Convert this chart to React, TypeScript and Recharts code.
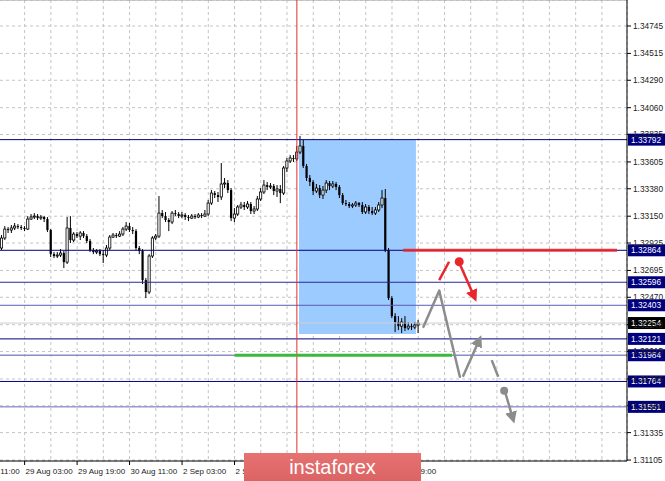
import React from "react";
import {
  ComposedChart,
  Bar,
  XAxis,
  YAxis,
  CartesianGrid,
  ReferenceLine,
  ReferenceArea,
  ReferenceDot
} from "recharts";

// H1 candles, 28 Aug 20:00 .. 5 Sep 03:00 (index 0..127)
const opens = [
  1.32883, 1.32967, 1.33042, 1.33034, 1.33051, 1.33067, 1.33059, 1.33051, 1.33042, 1.33126,
  1.33143, 1.33151, 1.33134, 1.33143, 1.33126, 1.33034, 1.32832, 1.32816, 1.32824, 1.32841,
  1.32765, 1.33051, 1.3295, 1.33, 1.32983, 1.33009, 1.32983, 1.32942, 1.32866, 1.32849,
  1.32858, 1.32832, 1.32824, 1.32883, 1.32975, 1.32992, 1.32983, 1.33, 1.33042, 1.33067,
  1.33034, 1.33025, 1.32883, 1.32858, 1.32614, 1.32514, 1.32816, 1.32967, 1.32983, 1.33176,
  1.33151, 1.33118, 1.33101, 1.33176, 1.33168, 1.33151, 1.3316, 1.33143, 1.33134, 1.33151,
  1.33143, 1.3316, 1.33151, 1.33168, 1.3326, 1.33344, 1.33327, 1.33311, 1.3342, 1.33428,
  1.33369, 1.33134, 1.33168, 1.33227, 1.33244, 1.33227, 1.33252, 1.33193, 1.3321, 1.33294,
  1.33353, 1.33411, 1.33395, 1.33403, 1.33361, 1.33378, 1.33344, 1.33554, 1.33613, 1.33638,
  1.3363, 1.33688, 1.33739, 1.33571, 1.3347, 1.33437, 1.33361, 1.33386, 1.33327, 1.33369,
  1.33428, 1.33403, 1.3342, 1.33395, 1.33327, 1.3326, 1.33252, 1.33235, 1.33244, 1.3326,
  1.33244, 1.33185, 1.33227, 1.33193, 1.33176, 1.33202, 1.33244, 1.33302, 1.32866, 1.32463,
  1.32312, 1.32262, 1.32228, 1.32262, 1.32212, 1.32228, 1.3222, 1.32237
];
const highs = [
  1.32992, 1.33067, 1.33059, 1.33076, 1.33093, 1.33084, 1.33076, 1.33067, 1.33151, 1.33168,
  1.33176, 1.33168, 1.3316, 1.33151, 1.33143, 1.33042, 1.32849, 1.32849, 1.32874, 1.32858,
  1.33143, 1.33151, 1.33017, 1.33017, 1.33025, 1.33025, 1.33, 1.32958, 1.32883, 1.32874,
  1.32874, 1.32866, 1.32908, 1.32992, 1.33009, 1.33009, 1.33025, 1.33059, 1.33101, 1.33093,
  1.33059, 1.33042, 1.329, 1.32874, 1.32631, 1.32832, 1.32983, 1.33, 1.33319, 1.33202,
  1.33185, 1.33134, 1.33193, 1.33202, 1.33185, 1.33185, 1.33176, 1.3316, 1.33168, 1.33168,
  1.33176, 1.33176, 1.33202, 1.33286, 1.33369, 1.33361, 1.33353, 1.33596, 1.3347, 1.33453,
  1.33386, 1.33218, 1.33244, 1.33269, 1.33269, 1.33277, 1.33269, 1.33235, 1.33319, 1.33386,
  1.33453, 1.33437, 1.33428, 1.3342, 1.33411, 1.33411, 1.33571, 1.33638, 1.33663, 1.33663,
  1.33739, 1.33823, 1.33789, 1.33588, 1.33495, 1.33453, 1.3342, 1.33411, 1.33403, 1.33453,
  1.33445, 1.33445, 1.33437, 1.33411, 1.33344, 1.33286, 1.33269, 1.3326, 1.33277, 1.33269,
  1.33269, 1.33252, 1.33244, 1.33227, 1.33227, 1.33269, 1.33369, 1.33378, 1.32883, 1.3248,
  1.32337, 1.32312, 1.32295, 1.32312, 1.32262, 1.32254, 1.32262, 1.32279
];
const lows = [
  1.32866, 1.3295, 1.33009, 1.33009, 1.33034, 1.33042, 1.33034, 1.33025, 1.33034, 1.33118,
  1.33126, 1.33118, 1.33118, 1.33101, 1.33017, 1.32807, 1.32799, 1.32799, 1.32807, 1.32715,
  1.32749, 1.32925, 1.32933, 1.32967, 1.3295, 1.32967, 1.32925, 1.32849, 1.32832, 1.32832,
  1.32816, 1.32757, 1.32807, 1.32866, 1.32967, 1.32967, 1.32975, 1.32983, 1.33025, 1.33017,
  1.33, 1.32866, 1.32832, 1.32581, 1.32463, 1.32497, 1.32799, 1.3295, 1.32967, 1.33134,
  1.33101, 1.33025, 1.33084, 1.33151, 1.33134, 1.33134, 1.33118, 1.33109, 1.33126, 1.33126,
  1.33134, 1.33134, 1.33143, 1.33151, 1.33244, 1.33302, 1.33269, 1.33286, 1.33386, 1.33344,
  1.33109, 1.33101, 1.33151, 1.3321, 1.33202, 1.3321, 1.33168, 1.33168, 1.33193, 1.33277,
  1.33336, 1.33369, 1.33378, 1.33327, 1.33311, 1.3326, 1.33327, 1.3352, 1.33596, 1.33604,
  1.33613, 1.33671, 1.33554, 1.33445, 1.33403, 1.33327, 1.33344, 1.33302, 1.33294, 1.33344,
  1.33369, 1.33386, 1.33369, 1.33302, 1.33244, 1.33235, 1.33218, 1.33218, 1.33227, 1.33227,
  1.33168, 1.33168, 1.33168, 1.3316, 1.3316, 1.33185, 1.33218, 1.32849, 1.32447, 1.32295,
  1.32178, 1.32195, 1.3217, 1.32187, 1.32195, 1.32195, 1.32203, 1.3217
];
const closes = [
  1.32967, 1.33042, 1.33034, 1.33051, 1.33067, 1.33059, 1.33051, 1.33042, 1.33126, 1.33143,
  1.33151, 1.33134, 1.33143, 1.33126, 1.33034, 1.32832, 1.32816, 1.32824, 1.32841, 1.32765,
  1.33051, 1.3295, 1.33, 1.32983, 1.33009, 1.32983, 1.32942, 1.32866, 1.32849, 1.32858,
  1.32832, 1.32824, 1.32883, 1.32975, 1.32992, 1.32983, 1.33, 1.33042, 1.33067, 1.33034,
  1.33025, 1.32883, 1.32858, 1.32614, 1.32514, 1.32816, 1.32967, 1.32983, 1.33176, 1.33151,
  1.33118, 1.33101, 1.33176, 1.33168, 1.33151, 1.3316, 1.33143, 1.33134, 1.33151, 1.33143,
  1.3316, 1.33151, 1.33168, 1.3326, 1.33344, 1.33327, 1.33311, 1.3342, 1.33428, 1.33369,
  1.33134, 1.33168, 1.33227, 1.33244, 1.33227, 1.33252, 1.33193, 1.3321, 1.33294, 1.33353,
  1.33411, 1.33395, 1.33403, 1.33361, 1.33378, 1.33344, 1.33554, 1.33613, 1.33638, 1.3363,
  1.33688, 1.33739, 1.33571, 1.3347, 1.33437, 1.33361, 1.33386, 1.33327, 1.33369, 1.33428,
  1.33403, 1.3342, 1.33395, 1.33327, 1.3326, 1.33252, 1.33235, 1.33244, 1.3326, 1.33244,
  1.33185, 1.33227, 1.33193, 1.33176, 1.33202, 1.33244, 1.33302, 1.32866, 1.32463, 1.32312,
  1.32262, 1.32228, 1.32262, 1.32212, 1.32228, 1.3222, 1.32237, 1.32254
];

// time axis: grid every 8 bars, labels every 16 bars
const gridIdx = [-9, -1, 7, 15, 23, 31, 39, 47, 55, 63, 71, 79, 87, 95, 103, 111, 119, 127, 135, 143, 151, 159, 167, 175, 183];
const labelIdx = [-9, 7, 23, 39, 55, 71, 87, 103, 119];
const timeLabels = ["28 Aug 11:00", "29 Aug 03:00", "29 Aug 19:00", "30 Aug 11:00", "2 Sep 03:00", "2 Sep 19:00", "3 Sep 11:00", "4 Sep 03:00", "4 Sep 19:00"];

const priceTicks = [1.34745, 1.34515, 1.3429, 1.3406, 1.33835, 1.33605, 1.3338, 1.3315, 1.32925, 1.32695, 1.3247, 1.3224, 1.32015, 1.31785, 1.3156, 1.31335, 1.31105];

// horizontal levels
const levels = [1.33792, 1.32864, 1.32596, 1.32403, 1.32121, 1.31984, 1.31764, 1.31551];
const levelStroke = ["#00007f", "#00007f", "#28289a", "#5a5ab8", "#00007f", "#8c8cc8", "#00007f", "#6a6abc"];
const lastPrice = 1.32254;

// annotations, [bar index, price]
const cursorIdx = 90;
const zoneX = [90.65, 126.3];
const zoneY = [1.32161, 1.33792];
const redLevel = [[122.4, 1.32864], [187.6, 1.32864]];
const greenLevel = [[71.1, 1.31984], [137.3, 1.31984]];
const grayUp = [[128.6, 1.32222], [133.4, 1.32525]];
const grayDown = [[133.4, 1.32525], [139.7, 1.31803]];
const grayBack = [[140.6, 1.31803], [145.8, 1.32125]];
const grayDash = [[149.4, 1.31943], [151.4, 1.31803]];
const grayDot = [153.2, 1.31686];
const grayFall = [[153.6, 1.31665], [156.0, 1.31440]];
const redDash = [[133.4, 1.32614], [136.4, 1.32768]];
const redDot = [139.5, 1.32768];
const redFall = [[139.9, 1.32735], [144.3, 1.32461]];

const data = opens.map((o, i) => ({
  i,
  o,
  h: highs[i],
  l: lows[i],
  c: closes[i],
  range: [lows[i], highs[i]]
}));

const FONT = "Liberation Sans";

const Candle = (props: any) => {
  const { x, y, width, height, payload } = props;
  const { o, h, l, c } = payload;
  const top = Math.min(y, y + height);
  const full = Math.abs(height);
  const cx = x + width / 2;
  const span = h - l || 1e-9;
  const py = (v: number) => top + ((h - v) / span) * full;
  const bTop = py(Math.max(o, c));
  const bBot = py(Math.min(o, c));
  const up = c >= o;
  return (
    <g>
      <line x1={cx} x2={cx} y1={top} y2={top + full} stroke="#000" strokeWidth={1} />
      <rect
        x={cx - 1.1}
        y={bTop}
        width={2.2}
        height={Math.max(bBot - bTop, 1)}
        fill={up ? "#ffffff" : "#000"}
        stroke="#000"
        strokeWidth={up ? 0.8 : 0}
      />
    </g>
  );
};

const TimeTick = (props: any) => {
  const { x, y, payload } = props;
  const k = labelIdx.indexOf(payload.value);
  if (k < 0) return null;
  return (
    <g>
      <line x1={x} x2={x} y1={y} y2={y + 4} stroke="#000" />
      <text x={x + 1} y={y + 13} fontSize={8} fill="#222" fontFamily={FONT}>
        {timeLabels[k]}
      </text>
    </g>
  );
};

const PriceTag = (props: any) => {
  const { viewBox, text, bg } = props;
  const x = viewBox.x + viewBox.width + 1;
  const y = viewBox.y;
  return (
    <g>
      <rect x={x} y={y - 6} width={37} height={12} fill={bg} />
      <text x={x + 3} y={y + 3} fontSize={8.3} fill="#fff" fontFamily={FONT}>
        {text}
      </text>
    </g>
  );
};

const seg = (p: number[][]) => [
  { x: p[0][0], y: p[0][1] },
  { x: p[1][0], y: p[1][1] }
];

const App = () => {
  return (
    <div style={{ position: "fixed", left: 0, top: 0, width: 665, height: 481, overflow: "hidden", background: "#fff" }}>
      <div style={{ position: "absolute", left: -30, top: 0 }}>
        <ComposedChart width={695} height={481} data={data} margin={{ top: 0, right: 0, left: 0, bottom: 0 }}>
          <defs>
            <marker id="headGray" viewBox="0 0 10 10" refX="7" refY="5" markerUnits="userSpaceOnUse" markerWidth="12" markerHeight="12" orient="auto">
              <path d="M0,0 L10,5 L0,10 z" fill="#8c8c8c" />
            </marker>
            <marker id="headRed" viewBox="0 0 10 10" refX="7" refY="5" markerUnits="userSpaceOnUse" markerWidth="12" markerHeight="12" orient="auto">
              <path d="M0,0 L10,5 L0,10 z" fill="#e8262c" />
            </marker>
          </defs>
          <CartesianGrid strokeDasharray="3 3" stroke="#c4c4c4" />
          <XAxis
            dataKey="i"
            type="number"
            domain={[-9.65, 190.65]}
            allowDataOverflow
            ticks={gridIdx}
            interval={0}
            tickLine={false}
            tickSize={0}
            tickMargin={0}
            height={20}
            axisLine={{ stroke: "#000" }}
            tick={<TimeTick />}
          />
          <YAxis
            orientation="right"
            type="number"
            domain={[1.31097, 1.34963]}
            allowDataOverflow
            ticks={priceTicks}
            interval={0}
            width={38}
            tickSize={4}
            tickMargin={2}
            axisLine={{ stroke: "#000" }}
            tickLine={{ stroke: "#000" }}
            tickFormatter={(v: number) => v.toFixed(5)}
            tick={{ fontSize: 8.3, fill: "#222", fontFamily: FONT }}
          />
          <ReferenceArea x1={zoneX[0]} x2={zoneX[1]} y1={zoneY[0]} y2={zoneY[1]} fill="#9ccbff" fillOpacity={1} stroke="none" />
          <ReferenceLine y={1.34963} stroke="#999" />
          <ReferenceLine y={lastPrice} stroke="#cfcfcf" label={<PriceTag text={lastPrice.toFixed(5)} bg="#000" />} />
          {levels.map((v, k) => (
            <ReferenceLine key={v} y={v} stroke={levelStroke[k]} strokeWidth={k === 5 ? 1.5 : 1} label={<PriceTag text={v.toFixed(5)} bg="#00007f" />} />
          ))}
          <ReferenceLine x={cursorIdx} stroke="#e03030" />
          <Bar dataKey="range" barSize={3} shape={<Candle />} isAnimationActive={false} />
          <ReferenceLine segment={seg(redLevel)} stroke="#e8262c" strokeOpacity={0.9} strokeWidth={3} />
          <ReferenceLine segment={seg(greenLevel)} stroke="#3cb83c" strokeWidth={3} />
          <ReferenceLine segment={seg(grayUp)} stroke="#8c8c8c" strokeWidth={2.5} strokeLinecap="round" />
          <ReferenceLine segment={seg(grayDown)} stroke="#8c8c8c" strokeWidth={2.5} strokeLinecap="round" />
          <ReferenceLine segment={seg(grayBack)} stroke="#8c8c8c" strokeWidth={2.5} markerEnd="url(#headGray)" />
          <ReferenceLine segment={seg(grayDash)} stroke="#8c8c8c" strokeWidth={2.5} />
          <ReferenceLine segment={seg(grayFall)} stroke="#8c8c8c" strokeWidth={2.5} markerEnd="url(#headGray)" />
          <ReferenceDot x={grayDot[0]} y={grayDot[1]} r={4} fill="#8c8c8c" stroke="none" />
          <ReferenceLine segment={seg(redDash)} stroke="#e8262c" strokeWidth={2.5} />
          <ReferenceLine segment={seg(redFall)} stroke="#e8262c" strokeWidth={2.5} markerEnd="url(#headRed)" />
          <ReferenceDot x={redDot[0]} y={redDot[1]} r={4.5} fill="#e8262c" stroke="none" />
        </ComposedChart>
      </div>
      <div
        style={{
          position: "absolute",
          left: 244,
          top: 453,
          width: 177,
          height: 28,
          background: "linear-gradient(#e77272, #db6363)",
          color: "#fff",
          fontFamily: FONT,
          fontSize: 20,
          lineHeight: "28px",
          textAlign: "center"
        }}
      >
        instaforex
      </div>
    </div>
  );
};

export default App;
